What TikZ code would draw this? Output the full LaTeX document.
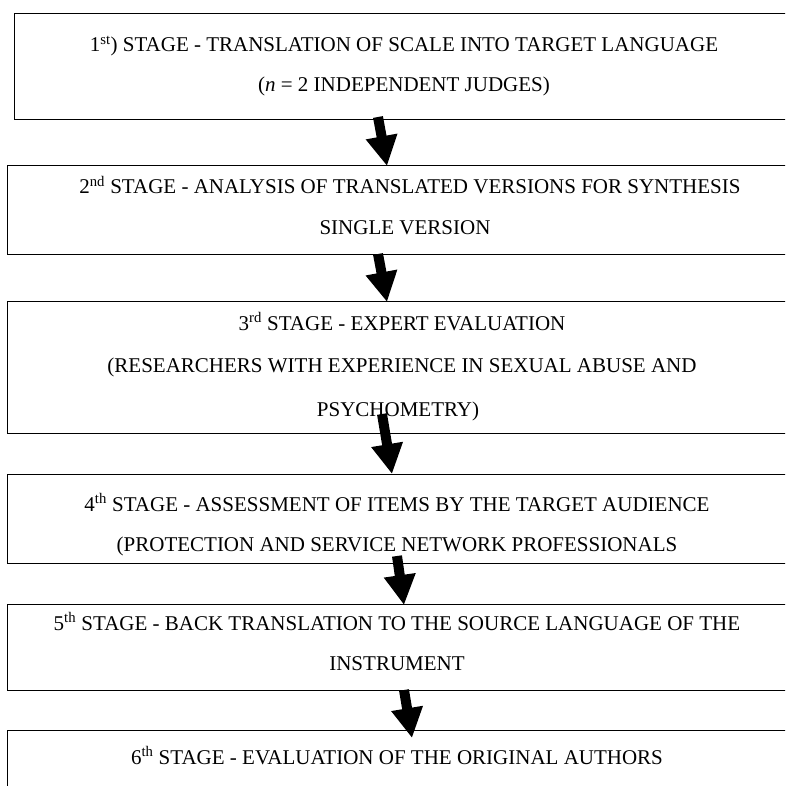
\documentclass[tikz,border=0pt]{standalone}
\usepackage{fontspec}
\setmainfont{Liberation Serif}
\usetikzlibrary{arrows.meta}
\tikzset{
  stagebox/.style={draw=black, line width=1.4pt, rectangle, anchor=north west,
    minimum width=800pt, inner sep=0pt},
  stagetext/.style={anchor=base, inner sep=0pt, font=\fontsize{21}{25}\selectfont},
  fatarrow/.style={line width=10pt, -{Triangle[width=30pt,length=30pt]}}
}
\begin{document}
\begin{tikzpicture}[x=1pt,y=-1pt]
\useasboundingbox (0,0) rectangle (785,786);
\clip (0,0) rectangle (785,786);
% boxes
\node[stagebox, minimum height=106pt] (s1) at (14,13) {};
\node[stagebox, minimum height=89pt] (s2) at (7,165) {};
\node[stagebox, minimum height=132pt] (s3) at (7,301) {};
\node[stagebox, minimum height=89pt] (s4) at (7,474) {};
\node[stagebox, minimum height=86pt] (s5) at (7,604) {};
\node[stagebox, minimum height=100pt] (s6) at (7,730) {};
% texts
\node[stagetext] (t1a) at (404,52) {1\textsuperscript{st}) STAGE - TRANSLATION OF SCALE INTO TARGET LANGUAGE};
\node[stagetext] (t1b) at (404,92) {(\textit{n} = 2 INDEPENDENT JUDGES)};
\node[stagetext] (t2a) at (410,194) {2\textsuperscript{nd} STAGE - ANALYSIS OF TRANSLATED VERSIONS FOR SYNTHESIS};
\node[stagetext] (t2b) at (405,234) {SINGLE VERSION};
\node[stagetext] (t3a) at (402,330) {3\textsuperscript{rd} STAGE - EXPERT EVALUATION};
\node[stagetext] (t3b) at (402,372) {(RESEARCHERS WITH EXPERIENCE IN SEXUAL ABUSE AND};
\node[stagetext] (t3c) at (398,416) {PSYCHOMETRY)};
\node[stagetext] (t4a) at (397,511) {4\textsuperscript{th} STAGE - ASSESSMENT OF ITEMS BY THE TARGET AUDIENCE};
\node[stagetext] (t4b) at (397,551) {(PROTECTION AND SERVICE NETWORK PROFESSIONALS};
\node[stagetext] (t5a) at (397,630) {5\textsuperscript{th} STAGE - BACK TRANSLATION TO THE SOURCE LANGUAGE OF THE};
\node[stagetext] (t5b) at (397,670) {INSTRUMENT};
\node[stagetext] (t6a) at (397,764) {6\textsuperscript{th} STAGE - EVALUATION OF THE ORIGINAL AUTHORS};
% arrows
\coordinate (a1s) at (378,117); \coordinate (a1e) at (387,166);
\coordinate (a2s) at (378,254); \coordinate (a2e) at (387,302);
\coordinate (a3s) at (382,414); \coordinate (a3e) at (392,474);
\coordinate (a4s) at (397,556); \coordinate (a4e) at (404,605);
\coordinate (a5s) at (404,690); \coordinate (a5e) at (412,738);
\draw[fatarrow] (a1s) -- (a1e);
\draw[fatarrow] (a2s) -- (a2e);
\draw[fatarrow] (a3s) -- (a3e);
\draw[fatarrow] (a4s) -- (a4e);
\draw[fatarrow] (a5s) -- (a5e);
\end{tikzpicture}
\end{document}
